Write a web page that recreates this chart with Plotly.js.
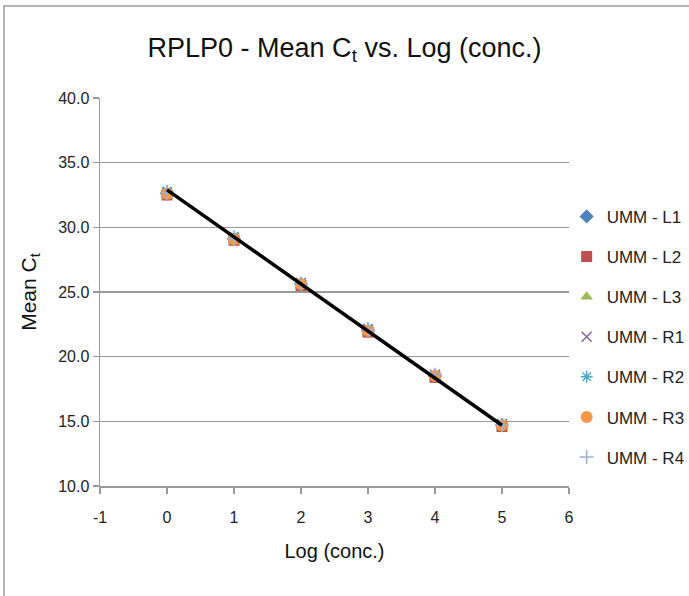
<!DOCTYPE html>
<html>
<head>
<meta charset="utf-8">
<script src="https://cdn.plot.ly/plotly-3.0.1.min.js"></script>
<style>
html,body{margin:0;padding:0;background:#fff;}
#chart{width:689px;height:596px;}
</style>
</head>
<body>
<div id="chart"></div>
<script>
const logConc = [0, 1, 2, 3, 4, 5];
const seriesNames = ["UMM - L1", "UMM - L2", "UMM - L3", "UMM - R1", "UMM - R2", "UMM - R3", "UMM - R4"];
const ummL1 = [32.6, 29.1, 25.6, 22.0, 18.5, 14.7];
const ummL2 = [32.5, 29.0, 25.5, 21.9, 18.4, 14.6];
const ummL3 = [32.4, 28.9, 25.5, 21.9, 18.4, 14.6];
const ummR1 = [32.7, 29.2, 25.7, 22.1, 18.6, 14.8];
const ummR2 = [32.8, 29.3, 25.7, 22.2, 18.6, 14.8];
const ummR3 = [32.6, 29.1, 25.6, 22.0, 18.5, 14.7];
const ummR4 = [32.7, 29.1, 25.6, 22.1, 18.6, 14.7];
const trendX = [0, 5];
const trendY = [32.9, 14.7];
const xTicks = [-1, 0, 1, 2, 3, 4, 5, 6];
const yTicks = [10, 15, 20, 25, 30, 35, 40];

const seriesValues = [ummL1, ummL2, ummL3, ummR1, ummR2, ummR3, ummR4];
const symbols = ["diamond", "square", "triangle-up", "x-thin-open", "asterisk-open", "circle", "cross-thin-open"];
const colors = ["#4F81BD", "#C0504D", "#9BBB59", "#8064A2", "#4BACC6", "#F79646", "#95B3D7"];
const sizes = [11, 11, 11, 10, 10, 12, 10];

const FONT = '"Liberation Sans", Arial, sans-serif';

const traces = seriesNames.map((name, i) => ({
  type: "scatter", mode: "markers", name: name,
  x: logConc, y: seriesValues[i],
  legendgroup: "g" + i,
  marker: {symbol: symbols[i], color: colors[i], size: sizes[i],
           line: {color: colors[i], width: (symbols[i].indexOf("open") >= 0 ? 1.5 : 0)}}
}));
traces.push({
  type: "scatter", mode: "lines", x: trendX, y: trendY, showlegend: false,
  line: {color: "#000", width: 3.5}, hoverinfo: "skip"
});

const layout = {
  width: 689, height: 596,
  margin: {l: 100, r: 120, t: 98, b: 110, autoexpand: false},
  paper_bgcolor: "#fff", plot_bgcolor: "#fff",
  font: {family: FONT, color: "#222", size: 16},
  title: {text: "RPLP0 - Mean C<sub>t</sub> vs. Log (conc.)", font: {family: FONT, size: 27, color: "#111"},
          x: 0.5, xanchor: "center", xref: "container", y: 0.921, yanchor: "middle"},
  xaxis: {range: [-1, 6], tickvals: xTicks, ticktext: xTicks.map(String),
          showgrid: false, zeroline: false, showline: true, linecolor: "#999", linewidth: 1.5,
          ticks: "outside", ticklen: 6, tickcolor: "#999", tickwidth: 1.5, ticklabelstandoff: 10,
          tickfont: {family: FONT, size: 16, color: "#222"},
          title: {text: "Log (conc.)", font: {family: FONT, size: 20, color: "#111"}, standoff: 19}},
  yaxis: {range: [10, 40], tickvals: yTicks, ticktext: yTicks.map(v => v.toFixed(1)),
          showgrid: true, gridcolor: "#999", gridwidth: 1.5, zeroline: false,
          showline: true, linecolor: "#999", linewidth: 1.5,
          ticks: "outside", ticklen: 6, tickcolor: "#999", tickwidth: 1.5,
          tickfont: {family: FONT, size: 16, color: "#222"},
          title: {text: "Mean C<sub>t</sub>", font: {family: FONT, size: 21, color: "#111"}, standoff: 16}},
  legend: {x: 0.995, xanchor: "left", y: 0.74, yanchor: "top", traceorder: "grouped", tracegroupgap: 15,
           font: {family: FONT, size: 17, color: "#222"}, itemwidth: 30, bgcolor: "rgba(0,0,0,0)"},
  shapes: [{type: "rect", xref: "paper", yref: "paper",
            x0: -96/469, x1: 2, y0: -2, y1: 1 + 92/388,
            line: {color: "#999", width: 1.5}, fillcolor: "rgba(0,0,0,0)", layer: "below"}],
  showlegend: true
};

Plotly.newPlot("chart", traces, layout, {staticPlot: true, displayModeBar: false});
</script>
</body>
</html>
